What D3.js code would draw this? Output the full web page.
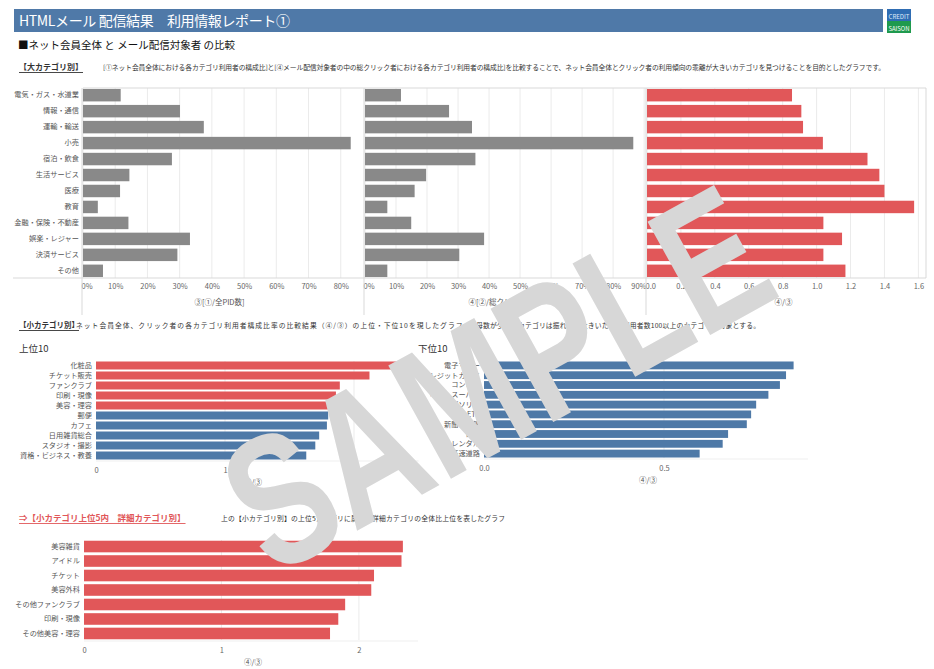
<!DOCTYPE html>
<html>
<head>
<meta charset="utf-8">
<script src="https://cdn.jsdelivr.net/npm/d3@7"></script>
<style>
body { margin:0; background:#fff; }
text { font-family: "Noto Sans CJK JP", "Noto Sans", sans-serif; }
</style>
</head>
<body>
<script>
//Data: 大カテゴリ
let bigCategories = ["電気・ガス・水道業","情報・通信","運輸・輸送","小売","宿泊・飲食","生活サービス","医療","教育","金融・保険・不動産","娯楽・レジャー","決済サービス","その他"]
let shareAll   = [0.117, 0.301, 0.375, 0.831, 0.276, 0.144, 0.115, 0.046, 0.141, 0.332, 0.293, 0.062]
let shareClick = [0.116, 0.271, 0.345, 0.865, 0.356, 0.197, 0.160, 0.072, 0.149, 0.384, 0.304, 0.072]
let ratioBig   = [0.855, 0.910, 0.920, 1.037, 1.300, 1.370, 1.400, 1.575, 1.040, 1.150, 1.040, 1.170]

//Data: 小カテゴリ 上位10 / 下位10
let top10Labels = ["化粧品","チケット販売","ファンクラブ","印刷・現像","美容・理容","郵便","カフェ","日用雑貨総合","スタジオ・撮影","資格・ビジネス・教養"]
let top10Values = [2.34, 2.12, 1.89, 1.86, 1.84, 1.80, 1.79, 1.73, 1.70, 1.63]
let top10Groups = ["top5","top5","top5","top5","top5","rest","rest","rest","rest","rest"]
let bottom10Labels = ["電子マネー","クレジットカード","コンビニ","ネットスーパー","ガソリン","ETC","新聞・書籍","保険","レンタル","高速道路"]
let bottom10Values = [0.860, 0.839, 0.822, 0.790, 0.756, 0.742, 0.730, 0.678, 0.663, 0.599]

//Data: 詳細カテゴリ
let detailLabels = ["美容雑貨","アイドル","チケット","美容外科","その他ファンクラブ","印刷・現像","その他美容・理容"]
let detailValues = [2.32, 2.31, 2.11, 2.09, 1.90, 1.85, 1.79]

//Tick values
let ticksShareAll = [0,0.1,0.2,0.3,0.4,0.5,0.6,0.7,0.8]
let ticksShareClick = [0,0.1,0.2,0.3,0.4,0.5,0.6,0.7,0.8,0.9]
let ticksRatioBig = [0,0.2,0.4,0.6,0.8,1.0,1.2,1.4,1.6]
let ticksTop10 = [0,1,2]
let ticksBottom10 = [0,0.5]
let ticksDetail = [0,1,2]

let red = "#e15759", blue = "#4e79a7", grey = "#898989"
let gridColor = "#ebebeb", lineColor = "#d9d9d9"

let svg = d3.select("body").append("svg")
	.attr("width", 934)
	.attr("height", 669)

//Header
svg.append("rect").attr("x",14).attr("y",9).attr("width",869).attr("height",23).attr("fill","#4f79a8")
svg.append("text").attr("x",19).attr("y",26).attr("fill","#fff").style("font-size","14px")
	.attr("textLength",271).text("HTMLメール 配信結果　利用情報レポート①")
svg.append("rect").attr("x",887).attr("y",9).attr("width",24).attr("height",12).attr("fill","#2f6db3")
svg.append("rect").attr("x",887).attr("y",21).attr("width",24).attr("height",12).attr("fill","#1f9a4e")
svg.append("text").attr("x",899).attr("y",18.5).attr("text-anchor","middle").attr("fill","#dfe9f7")
	.style("font-size","6.5px").attr("textLength",21).attr("lengthAdjust","spacingAndGlyphs").text("CREDIT")
svg.append("text").attr("x",899).attr("y",30.5).attr("text-anchor","middle").attr("fill","#fff")
	.style("font-size","6.5px").attr("textLength",21).attr("lengthAdjust","spacingAndGlyphs").text("SAISON")

svg.append("text").attr("x",18).attr("y",49).attr("fill","#111").style("font-size","10.5px")
	.text("■ネット会員全体 と メール配信対象者 の比較")

//Section title with underline
function sectionTitle(x, y, label, color, size) {
	let t = svg.append("text").attr("x",x).attr("y",y).attr("fill",color).style("font-size",size+"px").style("font-weight","bold").text(label)
	let w = t.node().getComputedTextLength()
	svg.append("line").attr("x1",x).attr("x2",x+w).attr("y1",y+2.5).attr("y2",y+2.5).attr("stroke",color).attr("stroke-width",0.9)
}
function note(x, y, label, len) {
	svg.append("text").attr("x",x).attr("y",y).attr("fill","#333").style("font-size","6.8px")
		.attr("textLength",len).text(label)
}

//keep first / last tick labels inside their panel
function clampLabels(ag, x, lo, hi) {
	ag.selectAll(".tick text").each(function(d){
		let w = this.getComputedTextLength()
		let dx = 0
		if (x(d) - w/2 < lo) dx = lo - (x(d) - w/2)
		if (x(d) + w/2 > hi) dx = hi - (x(d) + w/2)
		d3.select(this).attr("dx", dx)
	})
}

sectionTitle(19, 70, "【大カテゴリ別】", "#333", 8)
note(103, 70, "[①ネット会員全体における各カテゴリ利用者の構成比]と[④メール配信対象者の中の総クリック者における各カテゴリ利用者の構成比]を比較することで、ネット会員全体とクリック者の利用傾向の乖離が大きいカテゴリを見つけることを目的としたグラフです。", 782)

//Big category panels
let plotTop = 88, plotBottom = 278
let yBig = d3.scaleBand().domain(bigCategories).range([plotTop, plotBottom]).paddingInner(0.22).paddingOuter(0.06)

let panels = [
	{values: shareAll, x0: 83, x1: 362, max: 0.866, ticks: ticksShareAll, fmt: d3.format(".0%"), color: grey, title: "③[①/全PID数]"},
	{values: shareClick, x0: 365, x1: 646, max: 0.906, ticks: ticksShareClick, fmt: d3.format(".0%"), color: grey, title: "④[②/総クリック数]"},
	{values: ratioBig, x0: 647, x1: 926, max: 1.645, ticks: ticksRatioBig, fmt: d3.format(".1f"), color: red, title: "④/③"}
]

panels.forEach(function(p){
	let x = d3.scaleLinear().domain([0, p.max]).range([p.x0, p.x1])
	let g = svg.append("g")
	g.selectAll(".grid").data(p.ticks).enter().append("line")
		.attr("x1", d => x(d)).attr("x2", d => x(d)).attr("y1", plotTop).attr("y2", plotBottom)
		.attr("stroke", gridColor)
	g.selectAll(".bar").data(p.values).enter().append("rect")
		.attr("x", x(0))
		.attr("y", (d,i) => yBig(bigCategories[i]))
		.attr("width", d => x(d) - x(0))
		.attr("height", yBig.bandwidth())
		.attr("fill", p.color)
	let axis = d3.axisBottom(x).tickValues(p.ticks).tickFormat(p.fmt).tickSize(0).tickPadding(6)
	let ag = g.append("g").attr("transform", `translate(0,${plotBottom})`).call(axis)
	ag.select(".domain").remove()
	ag.selectAll("text").attr("fill","#666").style("font-size","7.5px")
	clampLabels(ag, x, p.x0 - 2, p.x1)
	g.append("text").attr("x",(p.x0+p.x1)/2 - 3).attr("y",305).attr("text-anchor","middle")
		.attr("fill","#555").style("font-size","7.5px").text(p.title)
	g.append("line").attr("x1",p.x0-1).attr("x2",p.x0-1).attr("y1",plotTop).attr("y2",315).attr("stroke",lineColor)
})

svg.append("line").attr("x1",83).attr("x2",926).attr("y1",plotTop).attr("y2",plotTop).attr("stroke",lineColor)
svg.append("line").attr("x1",13).attr("x2",926).attr("y1",plotBottom).attr("y2",plotBottom).attr("stroke",lineColor)
svg.append("line").attr("x1",926).attr("x2",926).attr("y1",plotTop).attr("y2",plotBottom).attr("stroke",lineColor)

let yAxisBig = d3.axisLeft(yBig).tickSize(0).tickPadding(3)
let yb = svg.append("g").attr("transform","translate(82,0)").call(yAxisBig)
yb.select(".domain").remove()
yb.selectAll("text").attr("fill","#555").style("font-size","7.2px")

//Small category section
sectionTitle(19, 328, "【小カテゴリ別】", "#333", 7.5)
note(76, 328, "ネット会員全体、クリック者の各カテゴリ利用者構成比率の比較結果（④/③）の上位・下位10を現したグラフ。", 394)
note(476, 328, "母数が少ないカテゴリは振れ幅が大きいため、利用者数100以上のカテゴリを対象とする。", 284)

svg.append("text").attr("x",19).attr("y",352).attr("fill","#333").style("font-size","9.5px").text("上位10")
svg.append("text").attr("x",418).attr("y",352).attr("fill","#333").style("font-size","9.5px").text("下位10")

//Ranked bar chart
function rankChart(labels, values, colors, opt) {
	let x = d3.scaleLinear().domain(opt.domain).range(opt.xr)
	let y = d3.scaleBand().domain(labels).range(opt.yr).paddingInner(opt.pad).paddingOuter(0.05)
	let g = svg.append("g")
	g.selectAll(".grid").data(opt.ticks.slice(1)).enter().append("line")
		.attr("x1", d => x(d)).attr("x2", d => x(d)).attr("y1", opt.yr[0]).attr("y2", opt.yr[1])
		.attr("stroke", gridColor)
	g.append("line").attr("x1", opt.xr[0]).attr("x2", opt.xr[1]).attr("y1", opt.yr[1]+1).attr("y2", opt.yr[1]+1).attr("stroke","#efefef")
	g.selectAll(".bar").data(values).enter().append("rect")
		.attr("x", x(0))
		.attr("y", (d,i) => y(labels[i]))
		.attr("width", d => x(d) - x(0))
		.attr("height", y.bandwidth())
		.attr("fill", (d,i) => colors[i])
	let ya = g.append("g").attr("transform", `translate(${x(0)-2},0)`).call(d3.axisLeft(y).tickSize(0).tickPadding(2))
	ya.select(".domain").remove()
	ya.selectAll("text").attr("fill","#555").style("font-size","7.2px")
	let xa = g.append("g").attr("transform", `translate(0,${opt.yr[1]})`)
		.call(d3.axisBottom(x).tickValues(opt.ticks).tickFormat(opt.fmt).tickSize(0).tickPadding(8))
	xa.select(".domain").remove()
	xa.selectAll("text").attr("fill","#666").style("font-size","7.5px")
	g.append("text").attr("x", opt.titleX).attr("y", opt.yr[1] + 25).attr("text-anchor","middle")
		.attr("fill","#555").style("font-size","7.5px").text("④/③")
}

rankChart(top10Labels, top10Values, top10Groups.map(d => d === "top5" ? red : blue),
	{domain:[0,2.5], xr:[96,418.5], yr:[361,460], pad:0.2, ticks:ticksTop10, fmt:d3.format("d"), titleX:253})
rankChart(bottom10Labels, bottom10Values, bottom10Values.map(() => blue),
	{domain:[0,0.9], xr:[484,808], yr:[361,458], pad:0.2, ticks:ticksBottom10, fmt:d3.format(".1f"), titleX:648})

//Detail section
sectionTitle(19, 521, "⇒【小カテゴリ上位5内　詳細カテゴリ別】", red, 8.5)
note(221, 521, "上の【小カテゴリ別】の上位5カテゴリに属する詳細カテゴリの全体比上位を表したグラフ", 284)

rankChart(detailLabels, detailValues, detailValues.map(() => red),
	{domain:[0,2.43], xr:[84,418], yr:[540,640], pad:0.2, ticks:ticksDetail, fmt:d3.format("d"), titleX:253})

//Watermark
svg.append("text")
	.attr("transform","translate(528,436) rotate(-29)")
	.attr("text-anchor","middle")
	.attr("fill","#d7d7d7")
	.attr("textLength",585)
	.attr("lengthAdjust","spacingAndGlyphs")
	.style("font-family","'Liberation Sans', Arial, sans-serif")
	.style("font-weight","bold")
	.style("font-size","188px")
	.text("SAMPLE")
</script>
</body>
</html>
